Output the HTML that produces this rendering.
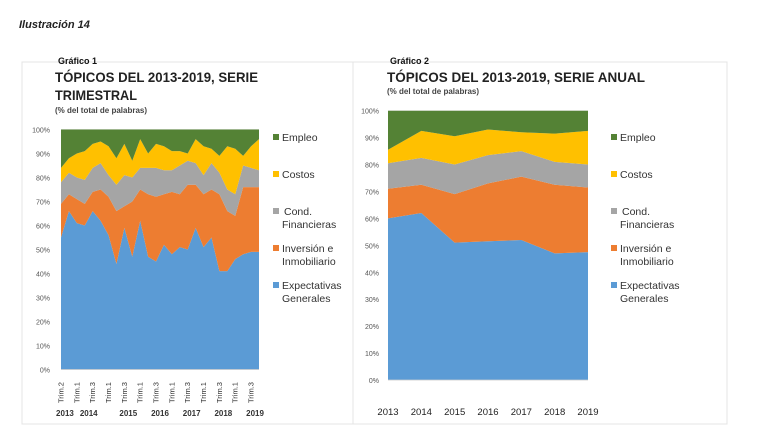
<!DOCTYPE html>
<html><head><meta charset="utf-8"><style>
body{margin:0;width:758px;height:440px;background:#fff;font-family:"Liberation Sans",sans-serif;overflow:hidden;position:relative}
.abs{position:absolute}
</style></head><body>
<div class="abs" style="left:19px;top:19px;font-size:11px;font-style:italic;font-weight:bold;color:#222">Ilustración 14</div>
<svg class="abs" style="left:0;top:0" width="758" height="440">
<rect x="22" y="62" width="331" height="362" fill="none" stroke="#e4e4e4"/>
<rect x="353" y="62" width="374" height="362" fill="none" stroke="#e4e4e4"/>
<g id="c1"></g>
<g id="c2"></g>
<text x="58" y="64" font-size="9" font-weight="bold" fill="#111">Gráfico 1</text>
<text x="55" y="82" font-size="14" font-weight="bold" fill="#222" textLength="203" lengthAdjust="spacingAndGlyphs">TÓPICOS DEL 2013-2019, SERIE</text>
<text x="55" y="100" font-size="14" font-weight="bold" fill="#222" textLength="82" lengthAdjust="spacingAndGlyphs">TRIMESTRAL</text>
<text x="55" y="113" font-size="8" font-weight="bold" fill="#444">(% del total de palabras)</text>
<text x="390" y="64" font-size="9" font-weight="bold" fill="#111">Gráfico 2</text>
<text x="387" y="82" font-size="14" font-weight="bold" fill="#222" textLength="258" lengthAdjust="spacingAndGlyphs">TÓPICOS DEL 2013-2019, SERIE ANUAL</text>
<text x="387" y="94" font-size="8" font-weight="bold" fill="#444">(% del total de palabras)</text>
</svg>
<script>
const seriesNames=["Expectativas Generales","Inversión e Inmobiliario","Cond. Financieras","Costos","Empleo"];
const colors=["#5b9bd5","#ed7d31","#a5a5a5","#ffc000","#548235"];
const q_expect=[55,66,61,60,66,62,56,44,59,47,62,47,45,52,48,51,50,59,51,55,41,41,46,48,49,49];
const q_invers=[14,7,10,9,8,13,16,22,9,23,13,26,27,21,26,22,27,18,22,20,32,25,18,28,27,27];
const q_cond=[9,9,9,10,10,11,9,11,13,10,9,11,12,10,9,12,10,9,8,11,9,9,9,9,8,7];
const q_costos=[6,6,10,12,10,9,12,11,13,7,12,6,10,10,8,6,3,10,12,6,7,18,19,4,9,13];
const q_empleo=[16,12,10,9,6,5,7,12,6,13,4,10,6,7,9,9,10,4,7,8,11,7,8,11,7,4];
const qTickLabels=["Trim.2","Trim.1","Trim.3","Trim.1","Trim.3","Trim.1","Trim.3","Trim.1","Trim.3","Trim.1","Trim.3","Trim.1","Trim.3"];
const qYearLabels=["2013","2014","2015","2016","2017","2018","2019"];
const a_years=["2013","2014","2015","2016","2017","2018","2019"];
const a_expect=[60,62,51,51.5,52,47,47.5];
const a_invers=[11,10.5,18,21.5,23.5,25.5,24];
const a_cond=[9.5,10,11,10.5,9.5,8.5,8.5];
const a_costos=[5,10,10.5,9.5,7,10.5,12.5];
const a_empleo=[14.5,7.5,9.5,7,8,8.5,7.5];
const yTicks=[0,10,20,30,40,50,60,70,80,90,100];
const NS="http://www.w3.org/2000/svg";
function mk(p,t,a){const e=document.createElementNS(NS,t);for(const k in a)e.setAttribute(k,a[k]);p.appendChild(e);return e;}
function draw(g,series,x0,x1,yTop,yBot,tickX,fs){
  const n=series[0].length;
  const sx=i=>x0+i*(x1-x0)/(n-1);
  const sy=v=>yBot-v/100*(yBot-yTop);
  for(const t of yTicks){
    const l=mk(g,"line",{x1:x0,x2:x1,y1:sy(t),y2:sy(t),stroke:"#e6e6e6","stroke-width":0.7});
    
    
    const tx=mk(g,"text",{x:tickX,y:sy(t)+3,"font-size":fs,"text-anchor":"end",fill:"#555"});
    tx.textContent=t+"%";
    
    
  }
  let base=new Array(n).fill(0);
  series.forEach((s,k)=>{
    const top=s.map((v,i)=>base[i]+v);
    let d="M"+sx(0)+","+sy(top[0]);
    for(let i=1;i<n;i++)d+="L"+sx(i)+","+sy(top[i]);
    for(let i=n-1;i>=0;i--)d+="L"+sx(i)+","+sy(base[i]);
    const p=mk(g,"path",{d:d+"Z",fill:colors[k]});
    
    
    base=top;
  });
  mk(g,"line",{x1:x0,x2:x1,y1:yBot,y2:yBot,stroke:"#ccc","stroke-width":0.7});
  return {sx,sy};
}
function legend(g,x,y0){
  const items=[["Empleo"],["Costos"],["Cond.","Financieras"],["Inversión e","Inmobiliario"],["Expectativas","Generales"]];
  const ci=[4,3,2,1,0];const ys=[0,37,74,111,148];
  items.forEach((it,j)=>{
    const r=mk(g,"rect",{x:x,y:y0+ys[j]-7,width:6,height:6,fill:colors[ci[j]]});
    
    
    it.forEach((s,m)=>{
      const t=mk(g,"text",{x:x+(m==0&&it[0]=="Cond."?11:9),y:y0+ys[j]+m*13,"font-size":10.5,fill:"#333"});
      t.textContent=s;
      
      
    });
  });
}
const g1=document.getElementById("c1");
const r1=draw(g1,[q_expect,q_invers,q_cond,q_costos,q_empleo],61,259,129.5,369.5,50,7);
for(let i=0;i<q_expect.length;i+=2){
  const x=r1.sx(i)+2.5,y=403;
  const t=mk(g1,"text",{x:x,y:y,"font-size":7.5,fill:"#333",transform:"rotate(-90 "+x+" "+y+")"});
  t.textContent=qTickLabels[i/2];
  
  
}
const yrIdx=[0.5,3.5,8.5,12.5,16.5,20.5,24.5];
qYearLabels.forEach((s,k)=>{
  const t=mk(g1,"text",{x:r1.sx(yrIdx[k]),y:416,"font-size":8,"font-weight":"bold","text-anchor":"middle",fill:"#333"});
  t.textContent=s;
  
  
});
legend(g1,273,141);
const g2=document.getElementById("c2");
const r2=draw(g2,[a_expect,a_invers,a_cond,a_costos,a_empleo],388,588,110.7,380,379,7);
a_years.forEach((s,i)=>{
  const t=mk(g2,"text",{x:r2.sx(i),y:415,"font-size":9.5,"text-anchor":"middle",fill:"#222"});
  t.textContent=s;
  
  
});
legend(g2,611,141);
</script>
</body></html>
